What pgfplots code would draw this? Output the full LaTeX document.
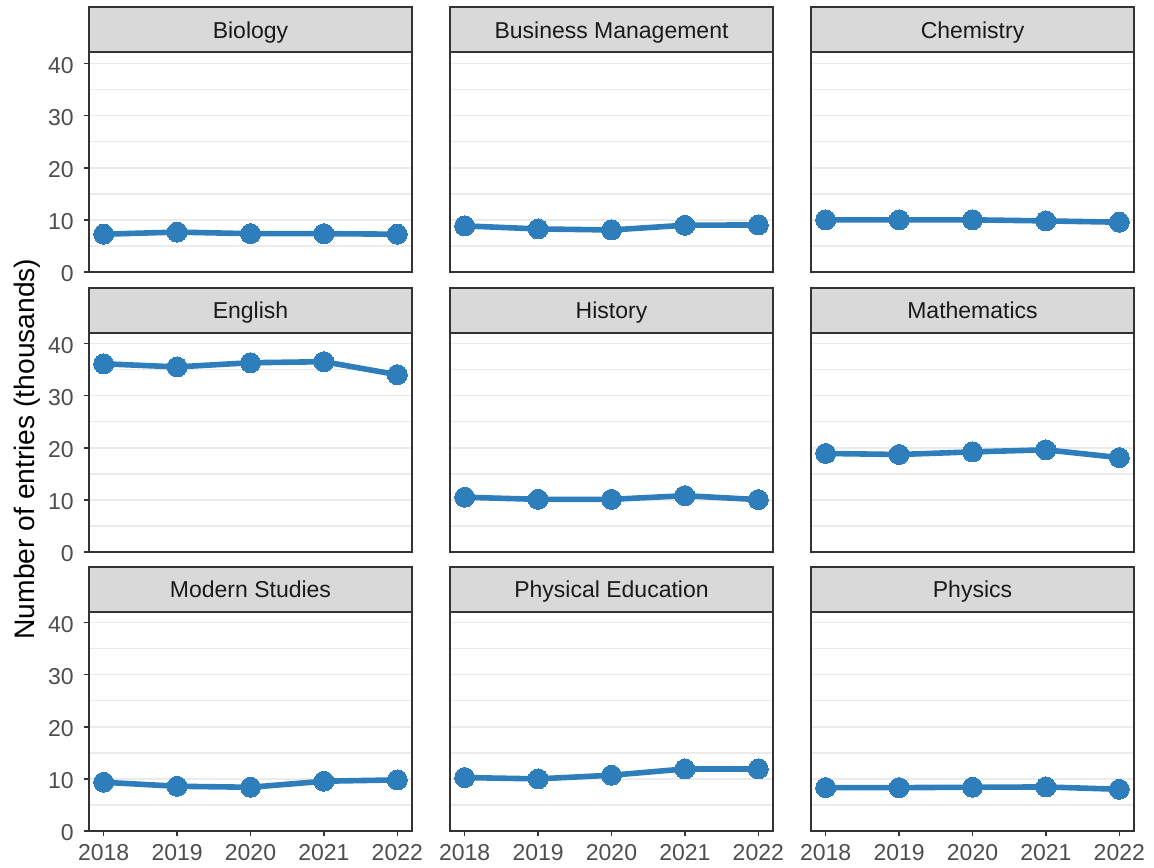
\documentclass[border=0pt]{standalone}
\usepackage{fontspec}
\setmainfont{Liberation Sans}
\usepackage{pgfplots}
\pgfplotsset{compat=1.18}
\definecolor{dk}{HTML}{333333}
\definecolor{gridc}{HTML}{EBEBEB}
\definecolor{stripc}{HTML}{D9D9D9}
\definecolor{ticktext}{HTML}{4D4D4D}
\definecolor{striptext}{HTML}{1A1A1A}
\definecolor{lineblue}{RGB}{46,126,187}
\pgfplotsset{
  panel/.style={
    scale only axis, width=161.5pt, height=109.75pt, anchor=south west,
    xmin=2017.8, xmax=2022.2, ymin=0, ymax=42.1,
    axis line style={draw=dk, line width=1pt},
    xtick={2018,2019,2020,2021,2022},
    xticklabels={2018,2019,2020,2021,2022},
    ytick={0,10,20,30,40}, minor ytick={5,15,25,35},
    ymajorgrids, yminorgrids,
    major grid style={draw=gridc, line width=0.9pt},
    minor grid style={draw=gridc, line width=0.75pt},
    tick align=outside, major tick length=2.7pt, minor tick length=0pt,
    xtick pos=bottom, ytick pos=left,
    tick style={draw=dk, line width=0.8pt},
    /pgf/number format/assume math mode=true,
    tick label style={font=\fontsize{11.5}{13}\selectfont, text=ticktext},
    yticklabel style={inner sep=0pt, anchor=east, xshift=-4.8pt, yshift=-1pt},
    xticklabel style={inner sep=0pt, anchor=north, yshift=-3.8pt},
    every axis title shift=0pt,
    title style={at={(0.5,1)}, anchor=south, yshift=0pt, fill=stripc, draw=dk,
      line width=1pt, minimum width=161.5pt, minimum height=22.5pt,
      inner sep=0pt, outer sep=0pt, text height=8.2pt, text depth=0pt,
      font=\fontsize{11.5}{13}\selectfont, text=striptext},
    clip=false,
  },
  noy/.style={yticklabels={}, ytick style={draw=none}},
  nox/.style={xticklabels={}, xtick style={draw=none}},
  ser/.style={color=lineblue, line width=2.8pt, mark=*, mark size=5pt,
    mark options={solid, fill=lineblue, draw=lineblue, line width=0pt}},
}
\begin{document}
\begin{tikzpicture}
\useasboundingbox (0,0) rectangle (577pt,433.5pt);
% Row 1
\begin{axis}[panel, nox, at={(44.5pt,297.5pt)}, title={Biology}]
\addplot[ser] coordinates {(2018,7.25) (2019,7.65) (2020,7.35) (2021,7.35) (2022,7.25)};
\end{axis}
\begin{axis}[panel, nox, noy, at={(225pt,297.5pt)}, title={Business Management}]
\addplot[ser] coordinates {(2018,8.84) (2019,8.26) (2020,8.06) (2021,8.97) (2022,9.03)};
\end{axis}
\begin{axis}[panel, nox, noy, at={(405.5pt,297.5pt)}, title={Chemistry}]
\addplot[ser] coordinates {(2018,10.0) (2019,10.0) (2020,10.0) (2021,9.8) (2022,9.55)};
\end{axis}
% Row 2
\begin{axis}[panel, nox, at={(44.5pt,157.5pt)}, title={English}]
\addplot[ser] coordinates {(2018,36.1) (2019,35.5) (2020,36.3) (2021,36.5) (2022,34.0)};
\end{axis}
\begin{axis}[panel, nox, noy, at={(225pt,157.5pt)}, title={History}]
\addplot[ser] coordinates {(2018,10.5) (2019,10.1) (2020,10.1) (2021,10.8) (2022,10.05)};
\end{axis}
\begin{axis}[panel, nox, noy, at={(405.5pt,157.5pt)}, title={Mathematics}]
\addplot[ser] coordinates {(2018,18.9) (2019,18.7) (2020,19.2) (2021,19.6) (2022,18.1)};
\end{axis}
% Row 3
\begin{axis}[panel, at={(44.5pt,18pt)}, title={Modern Studies}]
\addplot[ser] coordinates {(2018,9.35) (2019,8.58) (2020,8.39) (2021,9.55) (2022,9.8)};
\end{axis}
\begin{axis}[panel, noy, at={(225pt,18pt)}, title={Physical Education}]
\addplot[ser] coordinates {(2018,10.25) (2019,10.0) (2020,10.7) (2021,11.9) (2022,11.9)};
\end{axis}
\begin{axis}[panel, noy, at={(405.5pt,18pt)}, title={Physics}]
\addplot[ser] coordinates {(2018,8.32) (2019,8.32) (2020,8.39) (2021,8.45) (2022,8.0)};
\end{axis}
\node[rotate=90, font=\fontsize{14.1}{16}\selectfont, inner sep=0pt] at (13.5pt,209pt) {Number of entries (thousands)};
\end{tikzpicture}
\end{document}
